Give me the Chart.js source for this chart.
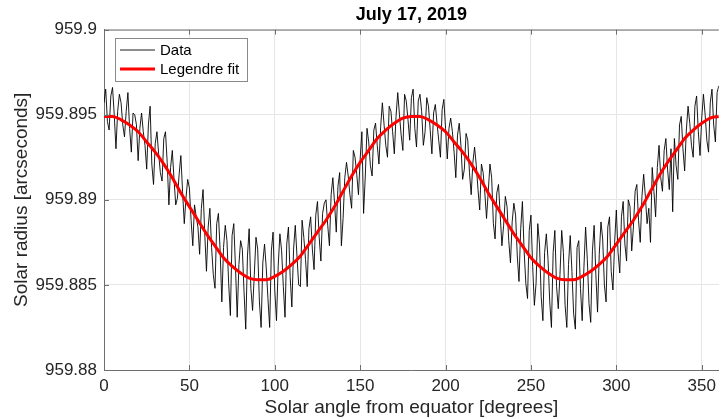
<!DOCTYPE html>
<html lang="en">
<head>
<meta charset="UTF-8">
<title>July 17, 2019</title>
<script src="https://cdn.jsdelivr.net/npm/chart.js@4"></script>
<style>
  body { margin: 0; background: #fff; }
  #chart { display: block; }
</style>
</head>
<body>
<canvas id="chart" width="722" height="419"></canvas>
<script>
const radiusData = [
  959.8957, 959.8965, 959.8946, 959.8941, 959.8961, 959.8966, 959.8950, 959.8930, 959.8952, 959.8962,
  959.8957, 959.8944, 959.8937, 959.8952, 959.8963, 959.8942, 959.8928, 959.8951, 959.8950, 959.8944,
  959.8923, 959.8942, 959.8951, 959.8940, 959.8932, 959.8918, 959.8944, 959.8955, 959.8921, 959.8909,
  959.8933, 959.8940, 959.8927, 959.8916, 959.8911, 959.8936, 959.8940, 959.8922, 959.8897, 959.8919,
  959.8929, 959.8912, 959.8897, 959.8901, 959.8915, 959.8926, 959.8905, 959.8886, 959.8901, 959.8912,
  959.8907, 959.8888, 959.8873, 959.8897, 959.8890, 959.8884, 959.8868, 959.8895, 959.8906, 959.8880,
  959.8858, 959.8884, 959.8895, 959.8872, 959.8856, 959.8848, 959.8886, 959.8892, 959.8870, 959.8840,
  959.8872, 959.8885, 959.8876, 959.8851, 959.8832, 959.8879, 959.8886, 959.8860, 959.8831, 959.8862,
  959.8876, 959.8871, 959.8846, 959.8824, 959.8867, 959.8883, 959.8848, 959.8835, 959.8856, 959.8878,
  959.8871, 959.8840, 959.8825, 959.8863, 959.8874, 959.8860, 959.8842, 959.8825, 959.8870, 959.8881,
  959.8847, 959.8829, 959.8861, 959.8880, 959.8870, 959.8849, 959.8831, 959.8874, 959.8884, 959.8855,
  959.8837, 959.8871, 959.8885, 959.8867, 959.8850, 959.8849, 959.8888, 959.8878, 959.8865, 959.8849,
  959.8883, 959.8890, 959.8871, 959.8859, 959.8891, 959.8899, 959.8878, 959.8864, 959.8892, 959.8898,
  959.8900, 959.8885, 959.8873, 959.8903, 959.8913, 959.8898, 959.8881, 959.8908, 959.8916, 959.8873,
  959.8889, 959.8913, 959.8922, 959.8914, 959.8903, 959.8895, 959.8929, 959.8925, 959.8915, 959.8903,
  959.8924, 959.8940, 959.8892, 959.8914, 959.8942, 959.8934, 959.8920, 959.8914, 959.8941, 959.8945,
  959.8932, 959.8921, 959.8943, 959.8957, 959.8944, 959.8932, 959.8925, 959.8955, 959.8952, 959.8940,
  959.8927, 959.8949, 959.8963, 959.8950, 959.8938, 959.8929, 959.8962, 959.8958, 959.8947, 959.8935,
  959.8960,
  959.8965, 959.8942, 959.8931, 959.8958, 959.8962, 959.8952, 959.8932, 959.8940, 959.8960, 959.8955,
  959.8941, 959.8927, 959.8951, 959.8956, 959.8945, 959.8935, 959.8925, 959.8953, 959.8959, 959.8942,
  959.8924, 959.8942, 959.8948, 959.8940, 959.8928, 959.8913, 959.8938, 959.8945, 959.8932, 959.8912,
  959.8918, 959.8939, 959.8935, 959.8916, 959.8903, 959.8922, 959.8931, 959.8920, 959.8906, 959.8894,
  959.8921, 959.8916, 959.8904, 959.8889, 959.8905, 959.8921, 959.8913, 959.8886, 959.8877, 959.8904,
  959.8909, 959.8891, 959.8873, 959.8885, 959.8902, 959.8896, 959.8876, 959.8863, 959.8887, 959.8898,
  959.8891, 959.8867, 959.8852, 959.8883, 959.8899, 959.8870, 959.8851, 959.8842, 959.8882, 959.8891,
  959.8861, 959.8838, 959.8851, 959.8886, 959.8874, 959.8843, 959.8829, 959.8869, 959.8880, 959.8865,
  959.8840, 959.8825, 959.8869, 959.8882, 959.8849, 959.8836, 959.8856, 959.8882, 959.8869, 959.8838,
  959.8825, 959.8862, 959.8879, 959.8858, 959.8833, 959.8824, 959.8872, 959.8876, 959.8848, 959.8829,
  959.8860, 959.8884, 959.8865, 959.8839, 959.8828, 959.8870, 959.8885, 959.8856, 959.8834, 959.8868,
  959.8887, 959.8877, 959.8850, 959.8840, 959.8884, 959.8890, 959.8858, 959.8847, 959.8875, 959.8894,
  959.8869, 959.8857, 959.8890, 959.8899, 959.8874, 959.8864, 959.8900, 959.8896, 959.8870, 959.8884,
  959.8905, 959.8909, 959.8888, 959.8875, 959.8902, 959.8915, 959.8902, 959.8886, 959.8895, 959.8875,
  959.8919, 959.8905, 959.8890, 959.8919, 959.8932, 959.8913, 959.8905, 959.8929, 959.8936, 959.8918,
  959.8906, 959.8930, 959.8893, 959.8936, 959.8920, 959.8912, 959.8944, 959.8949, 959.8930, 959.8917,
  959.8941, 959.8955, 959.8945, 959.8932, 959.8925, 959.8955, 959.8961, 959.8940, 959.8926, 959.8948,
  959.8962, 959.8950, 959.8935, 959.8928, 959.8957, 959.8965, 959.8944, 959.8934, 959.8963, 959.8967
];

// Legendre fit, one value every 5 degrees
const fitStep = 5;
const legendreFit = [
  959.8949, 959.8949, 959.8947, 959.8944, 959.8940, 959.8934, 959.8928, 959.8921, 959.8913, 959.8904,
  959.8896, 959.8888, 959.8880, 959.8873, 959.8866, 959.8861, 959.8857, 959.8854, 959.8853, 959.8853,
  959.8855, 959.8858, 959.8862, 959.8867, 959.8874, 959.8881, 959.8888, 959.8896, 959.8905, 959.8914,
  959.8922, 959.8929, 959.8936, 959.8941, 959.8945, 959.8948, 959.8949,
  959.8949, 959.8947, 959.8944, 959.8940, 959.8934, 959.8928, 959.8921, 959.8913, 959.8904,
  959.8896, 959.8888, 959.8880, 959.8873, 959.8866, 959.8861, 959.8857, 959.8854, 959.8853, 959.8853,
  959.8855, 959.8858, 959.8862, 959.8867, 959.8874, 959.8881, 959.8888, 959.8896, 959.8905, 959.8914,
  959.8922, 959.8929, 959.8936, 959.8941, 959.8945, 959.8948, 959.8949
];

const xTicks = [0, 50, 100, 150, 200, 250, 300, 350];
const yTicks = [959.88, 959.885, 959.89, 959.895, 959.9];

const FONT = '"Liberation Sans", Arial, Helvetica, sans-serif';
const AXIS = '#6e6e6e';
const GRID = '#e6e6e6';
const TEXT = '#262626';

// MATLAB style: inward ticks, top border, boxed legend
const matlabBox = {
  id: 'matlabBox',
  afterDatasetsDraw(chart) {
    const ctx = chart.ctx;
    const a = chart.chartArea;
    const xs = chart.scales.x, ys = chart.scales.y;
    ctx.save();
    ctx.strokeStyle = AXIS;
    ctx.lineWidth = 1;
    ctx.beginPath();
    ctx.moveTo(a.left, a.top + 0.5);
    ctx.lineTo(a.right, a.top + 0.5);
    xTicks.forEach(v => {
      const px = Math.round(xs.getPixelForValue(v)) + 0.5;
      ctx.moveTo(px, a.bottom); ctx.lineTo(px, a.bottom - 5);
      ctx.moveTo(px, a.top); ctx.lineTo(px, a.top + 5);
    });
    yTicks.forEach(v => {
      const py = Math.round(ys.getPixelForValue(v)) + 0.5;
      ctx.moveTo(a.left, py); ctx.lineTo(a.left + 5, py);
    });
    ctx.stroke();

    // legend
    const lx = 115.5, ly = 38.5, lw = 132, lh = 43;
    ctx.fillStyle = '#fff';
    ctx.fillRect(lx, ly, lw, lh);
    ctx.strokeStyle = '#8a8a8a';
    ctx.strokeRect(lx, ly, lw, lh);
    const items = [chart.data.datasets[1], chart.data.datasets[0]];
    items.forEach((ds, i) => {
      const y = 50 + i * 19;
      ctx.strokeStyle = ds.borderColor;
      ctx.lineWidth = ds.borderWidth;
      ctx.beginPath();
      ctx.moveTo(120, y); ctx.lineTo(155, y);
      ctx.stroke();
      ctx.fillStyle = '#000';
      ctx.font = '15px ' + FONT;
      ctx.textBaseline = 'middle';
      ctx.fillText(ds.label, 160, y + 1);
    });
    ctx.restore();
  }
};

new Chart(document.getElementById('chart'), {
  type: 'line',
  data: {
    datasets: [
      {
        label: 'Legendre fit',
        data: legendreFit.map((r, i) => ({ x: i * fitStep, y: r })),
        borderColor: '#ff0000',
        borderWidth: 3,
        pointRadius: 0,
        cubicInterpolationMode: 'monotone',
        order: 0
      },
      {
        label: 'Data',
        data: radiusData.map((r, i) => ({ x: i, y: r })),
        borderColor: '#000000',
        borderWidth: 0.9,
        pointRadius: 0,
        tension: 0,
        order: 1
      }
    ]
  },
  options: {
    responsive: false,
    animation: false,
    layout: { padding: { left: 0, right: 1, top: 0, bottom: 0 } },
    plugins: {
      legend: { display: false },
      tooltip: { enabled: false },
      title: {
        display: true,
        text: 'July 17, 2019',
        fullSize: false,
        color: '#000',
        font: { family: FONT, size: 18, weight: 'bold' },
        padding: { top: 4, bottom: 4 }
      }
    },
    scales: {
      x: {
        type: 'linear',
        min: 0,
        max: 360,
        afterBuildTicks: s => { s.ticks = xTicks.map(v => ({ value: v })); },
        afterFit: s => { s.height = 49; },
        grid: { color: GRID, drawTicks: false },
        border: { color: AXIS, width: 1 },
        ticks: {
          color: TEXT,
          padding: 6,
          maxRotation: 0,
          font: { family: FONT, size: 17 }
        },
        title: {
          display: true,
          text: 'Solar angle from equator [degrees]',
          color: TEXT,
          font: { family: FONT, size: 19 },
          padding: 0
        }
      },
      y: {
        type: 'linear',
        min: 959.88,
        max: 959.9,
        afterBuildTicks: s => { s.ticks = yTicks.map(v => ({ value: v })); },
        afterFit: s => { s.width = 104; },
        grid: { color: GRID, drawTicks: false },
        border: { color: AXIS, width: 1 },
        ticks: {
          color: TEXT,
          padding: 7,
          font: { family: FONT, size: 17 },
          callback: v => String(Number(v.toFixed(3)))
        },
        title: {
          display: true,
          text: 'Solar radius [arcseconds]',
          color: TEXT,
          font: { family: FONT, size: 19 },
          padding: { top: 10, bottom: 0 }
        }
      }
    }
  },
  plugins: [matlabBox]
});
</script>
</body>
</html>
